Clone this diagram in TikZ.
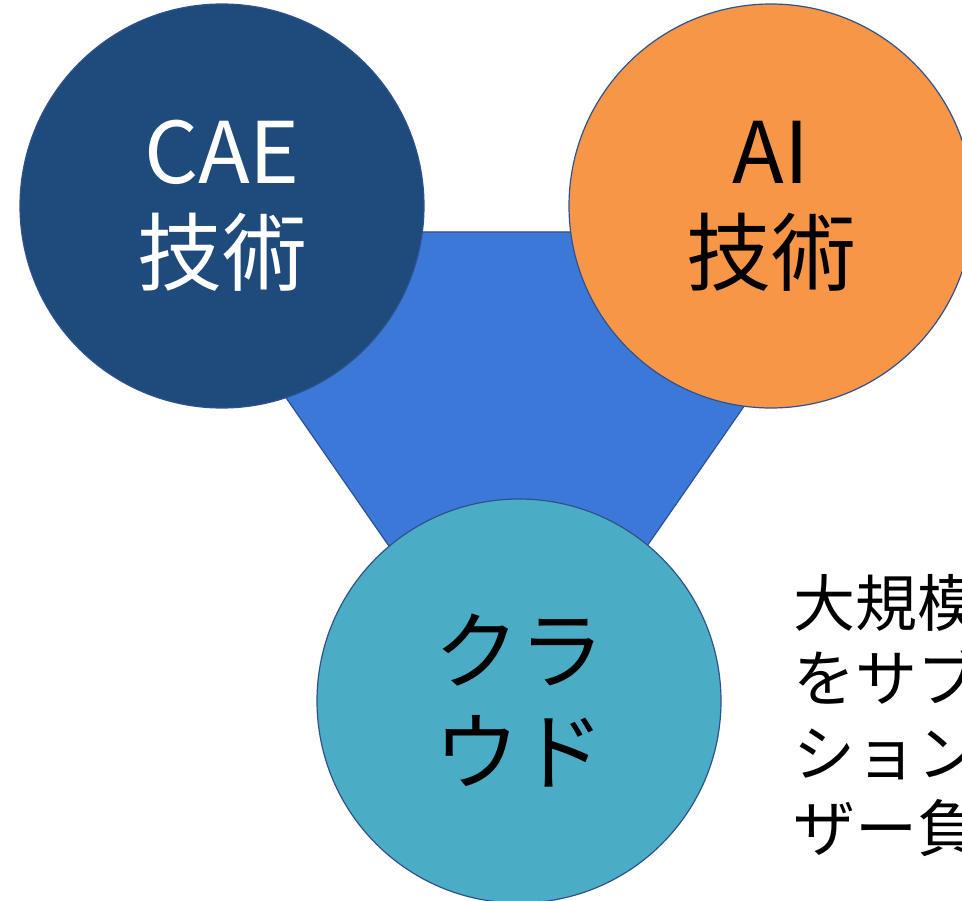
\documentclass[tikz,border=0pt]{standalone}
\usepackage{fontspec}
\setmainfont{Noto Sans CJK JP}
\definecolor{caeblue}{HTML}{1F4A7C}
\definecolor{triblue}{HTML}{3C78D8}
\definecolor{aiorange}{HTML}{F79646}
\definecolor{cloudteal}{HTML}{4BACC6}
\definecolor{edgeblue}{HTML}{2F528F}
\tikzset{
  bubble/.style={circle, minimum size=404pt, inner sep=0pt, draw=edgeblue, line width=1.2pt, align=center,
    font=\fontsize{85pt}{101pt}\selectfont},
  sidetext/.style={anchor=base west, inner sep=0pt, font=\fontsize{62pt}{62pt}\selectfont}
}
\begin{document}
\begin{tikzpicture}[x=1pt,y=-1pt]
\useasboundingbox (0,0) rectangle (962,901);
\clip (0,0) rectangle (962,901);
\fill[white] (0,0) rectangle (962,901);
\draw[fill=triblue, draw=edgeblue, line width=1.2pt, line join=miter]
  (171,232) coordinate (t1) -- (865,232) coordinate (t2) -- (518,732) coordinate (t3) -- cycle;
\node[bubble, fill=caeblue, text=white] (cae) at (222,206) {CAE\\技術};
\node[bubble, fill=aiorange, text=black] (ai) at (771,206) {AI\\技術};
\node[bubble, fill=cloudteal, text=black] (cloud) at (519,701) {クラ\\ウド};
\node[sidetext] (l1) at (793,626) {大規模};
\node[sidetext] (l2) at (793,701) {をサブ};
\node[sidetext] (l3) at (793,776) {ション};
\node[sidetext] (l4) at (793,851) {ザー負};
\end{tikzpicture}
\end{document}
